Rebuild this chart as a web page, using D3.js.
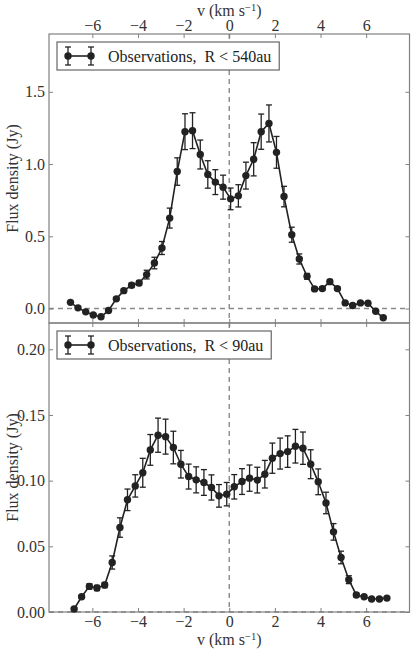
<!DOCTYPE html>
<html>
<head>
<meta charset="utf-8">
<script src="https://cdnjs.cloudflare.com/ajax/libs/d3/7.8.5/d3.min.js"></script>
<style>
  html, body { margin: 0; padding: 0; background: #fff; }
  svg text { font-family: "Liberation Serif", "Times New Roman", "DejaVu Serif", serif !important; }
</style>
</head>
<body>
<div id="viz"></div>
<script>
// velocity channels (km/s) for each panel
const velTop = [-6.96, -6.63, -6.29, -5.96, -5.62, -5.29, -4.95, -4.62, -4.28, -3.95,
                -3.62, -3.28, -2.95, -2.61, -2.28, -1.94, -1.61, -1.27, -0.94, -0.61,
                -0.27, 0.06, 0.40, 0.73, 1.07, 1.40, 1.74, 2.07, 2.40, 2.74,
                3.07, 3.41, 3.74, 4.08, 4.41, 4.74, 5.08, 5.41, 5.75, 6.08,
                6.42, 6.75];
const fluxTop = [0.043, 0.005, -0.023, -0.045, -0.057, -0.013, 0.067, 0.124, 0.161, 0.177,
                 0.235, 0.315, 0.419, 0.626, 0.948, 1.224, 1.231, 1.066, 0.928, 0.875,
                 0.840, 0.759, 0.780, 0.920, 1.033, 1.224, 1.281, 1.081, 0.775, 0.511,
                 0.343, 0.223, 0.136, 0.138, 0.186, 0.138, 0.039, 0.021, 0.039, 0.037,
                 -0.019, -0.064];
const errTop = [0.005, 0.005, 0.005, 0.005, 0.006, 0.006, 0.008, 0.012, 0.015, 0.017,
                0.030, 0.040, 0.045, 0.069, 0.095, 0.124, 0.124, 0.100, 0.095, 0.086,
                0.083, 0.075, 0.077, 0.093, 0.115, 0.122, 0.128, 0.110, 0.071, 0.052,
                0.035, 0.020, 0.012, 0.012, 0.015, 0.012, 0.006, 0.005, 0.005, 0.005,
                0.005, 0.005];

const velBot = [-6.80, -6.47, -6.13, -5.80, -5.46, -5.13, -4.79, -4.46, -4.12, -3.79,
                -3.46, -3.12, -2.79, -2.45, -2.12, -1.78, -1.45, -1.11, -0.78, -0.45,
                -0.11, 0.22, 0.56, 0.89, 1.23, 1.56, 1.89, 2.23, 2.56, 2.90,
                3.23, 3.57, 3.90, 4.24, 4.57, 4.90, 5.24, 5.57, 5.91, 6.24,
                6.58, 6.91];
const fluxBot = [0.0023, 0.0116, 0.0195, 0.0183, 0.0205, 0.0377, 0.0643, 0.0854, 0.0960, 0.1060,
                 0.1234, 0.1346, 0.1335, 0.1252, 0.1125, 0.1031, 0.1006, 0.0986, 0.0948, 0.0884,
                 0.0897, 0.0953, 0.0993, 0.1019, 0.1004, 0.1049, 0.1171, 0.1206, 0.1221, 0.1262,
                 0.1247, 0.1125, 0.0991, 0.0830, 0.0610, 0.0415, 0.0246, 0.0129, 0.0116, 0.0099,
                 0.0099, 0.0106];
const errBot = [0.001, 0.001, 0.002, 0.002, 0.002, 0.005, 0.0074, 0.0082, 0.0085, 0.0110,
                0.0117, 0.0130, 0.0133, 0.0124, 0.0105, 0.0095, 0.0099, 0.0098, 0.0096, 0.0086,
                0.0089, 0.0093, 0.0098, 0.0100, 0.0098, 0.0105, 0.0115, 0.0118, 0.0120, 0.0128,
                0.0123, 0.0110, 0.0098, 0.0082, 0.0063, 0.0048, 0.0030, 0.0015, 0.0010, 0.0010,
                0.0010, 0.0010];

const xTicks = [-6, -4, -2, 0, 2, 4, 6];
const yTicksTop = [0.0, 0.5, 1.0, 1.5];
const yTicksBot = [0.00, 0.05, 0.10, 0.15, 0.20];
const legendTop = 'Observations,  R < 540au';
const legendBot = 'Observations,  R < 90au';

const W = 413, H = 653;
const left = 49, right = 409.5;
const top1 = 34, mid = 323, bot2 = 612;
const spine = '#808080';
const ink = '#222';
const serif = '"Liberation Serif", "Times New Roman", "DejaVu Serif", serif';

let svg = d3.select('#viz').append('svg')
            .attr('width', W).attr('height', H)
            .attr('font-family', serif);

let xScale = d3.scaleLinear().domain([-7.9, 7.9]).range([left, right]);
let yTop = d3.scaleLinear().domain([-0.1, 1.9]).range([mid, top1]);
let yBot = d3.scaleLinear().domain([0, 0.22]).range([bot2, mid]);

const fmt1 = d3.format('.1f');
const fmt2 = d3.format('.2f');

function drawPanel(yScale, vel, flux, err, yTicks, yFmt, legendText, showTopLabels, showBottomLabels) {
    const y0 = yScale.range()[1], y1 = yScale.range()[0];
    let g = svg.append('g');

    // dashed reference lines
    g.append('line')
     .attr('x1', xScale(0)).attr('x2', xScale(0))
     .attr('y1', y0).attr('y2', y1)
     .attr('stroke', '#8a8a8a').attr('stroke-width', 1.4)
     .attr('stroke-dasharray', '5,4');
    g.append('line')
     .attr('x1', left).attr('x2', right)
     .attr('y1', yScale(0)).attr('y2', yScale(0))
     .attr('stroke', '#8a8a8a').attr('stroke-width', 1.4)
     .attr('stroke-dasharray', '5,4');

    // axes, ticks pointing inward
    let axB = d3.axisBottom(xScale).tickValues(xTicks).tickSize(-4).tickPadding(4)
                .tickFormat(showBottomLabels ? d3.format('d') : '');
    let axT = d3.axisTop(xScale).tickValues(xTicks).tickSize(-4).tickPadding(3)
                .tickFormat(showTopLabels ? d3.format('d') : '');
    let axL = d3.axisLeft(yScale).tickValues(yTicks).tickSize(-4).tickPadding(4).tickFormat(yFmt);
    let axR = d3.axisRight(yScale).tickValues(yTicks).tickSize(-4).tickFormat('');

    [[axB, `translate(0,${y1})`], [axT, `translate(0,${y0})`],
     [axL, `translate(${left},0)`], [axR, `translate(${right},0)`]].forEach(a => {
        let ag = g.append('g').attr('transform', a[1]).call(a[0]);
        ag.attr('font-family', serif).attr('font-size', 16);
        ag.select('.domain').remove();
        ag.selectAll('line').attr('stroke', spine);
        ag.selectAll('text').attr('fill', '#333');
    });

    // frame
    g.append('rect')
     .attr('x', left).attr('y', y0)
     .attr('width', right - left).attr('height', y1 - y0)
     .attr('fill', 'none').attr('stroke', spine).attr('stroke-width', 1.2);

    const pts = vel.map((v, i) => ({v: v, f: flux[i], e: err[i]}));

    // error bars
    let eb = g.append('g').attr('stroke', ink).attr('stroke-width', 1.3);
    pts.forEach(d => {
        const x = xScale(d.v), ya = yScale(d.f + d.e), yb = yScale(d.f - d.e);
        eb.append('line').attr('x1', x).attr('x2', x).attr('y1', ya).attr('y2', yb);
        eb.append('line').attr('x1', x - 3).attr('x2', x + 3).attr('y1', ya).attr('y2', ya);
        eb.append('line').attr('x1', x - 3).attr('x2', x + 3).attr('y1', yb).attr('y2', yb);
    });

    // connecting line
    let line = d3.line().x(d => xScale(d.v)).y(d => yScale(d.f));
    g.append('path').datum(pts)
     .attr('d', line)
     .attr('fill', 'none').attr('stroke', ink).attr('stroke-width', 1.6);

    g.selectAll('circle.pt')
     .data(pts)
     .enter()
     .append('circle')
     .attr('class', 'pt')
     .attr('cx', d => xScale(d.v))
     .attr('cy', d => yScale(d.f))
     .attr('r', 3.7)
     .attr('fill', ink);

    // legend
    let lg = g.append('g').attr('transform', `translate(${left + 8},${y0 + 8})`);
    let lt = lg.append('text')
               .attr('x', 51).attr('y', 20)
               .attr('fill', '#222').attr('font-size', 16)
               .attr('font-family', serif)
               .style('white-space', 'pre')
               .attr('xml:space', 'preserve')
               .text(legendText);
    const tw = lt.node().getComputedTextLength();
    lg.insert('rect', 'text')
      .attr('x', 0).attr('y', 0)
      .attr('width', 51 + tw + 8).attr('height', 28)
      .attr('fill', '#fff').attr('stroke', '#666').attr('stroke-width', 1.2);
    let mk = lg.append('g').attr('stroke', ink).attr('stroke-width', 1.3);
    mk.append('line').attr('x1', 11).attr('x2', 34).attr('y1', 14).attr('y2', 14).attr('stroke-width', 1.6);
    [11, 34].forEach(x => {
        mk.append('line').attr('x1', x).attr('x2', x).attr('y1', 5).attr('y2', 23);
        mk.append('line').attr('x1', x - 3).attr('x2', x + 3).attr('y1', 5).attr('y2', 5);
        mk.append('line').attr('x1', x - 3).attr('x2', x + 3).attr('y1', 23).attr('y2', 23);
        lg.append('circle').attr('cx', x).attr('cy', 14).attr('r', 3.7).attr('fill', ink);
    });

    // y label
    svg.append('text')
       .attr('transform', `translate(18,${(y0 + y1) / 2}) rotate(-90)`)
       .attr('text-anchor', 'middle')
       .attr('fill', '#333').attr('font-size', 16)
       .attr('font-family', serif)
       .text('Flux density (Jy)');
}

drawPanel(yTop, velTop, fluxTop, errTop, yTicksTop, fmt1, legendTop, true, false);
drawPanel(yBot, velBot, fluxBot, errBot, yTicksBot, fmt2, legendBot, false, true);

function velLabel(y) {
    let t = svg.append('text')
               .attr('x', (left + right) / 2).attr('y', y)
               .attr('text-anchor', 'middle')
               .attr('fill', '#333').attr('font-size', 16)
               .attr('font-family', serif);
    t.append('tspan').text('v (km s');
    t.append('tspan').attr('dy', -5).attr('font-size', 10.5).text('−1');
    t.append('tspan').attr('dy', 5).text(')');
}
velLabel(15.5);
velLabel(645);
</script>
</body>
</html>
